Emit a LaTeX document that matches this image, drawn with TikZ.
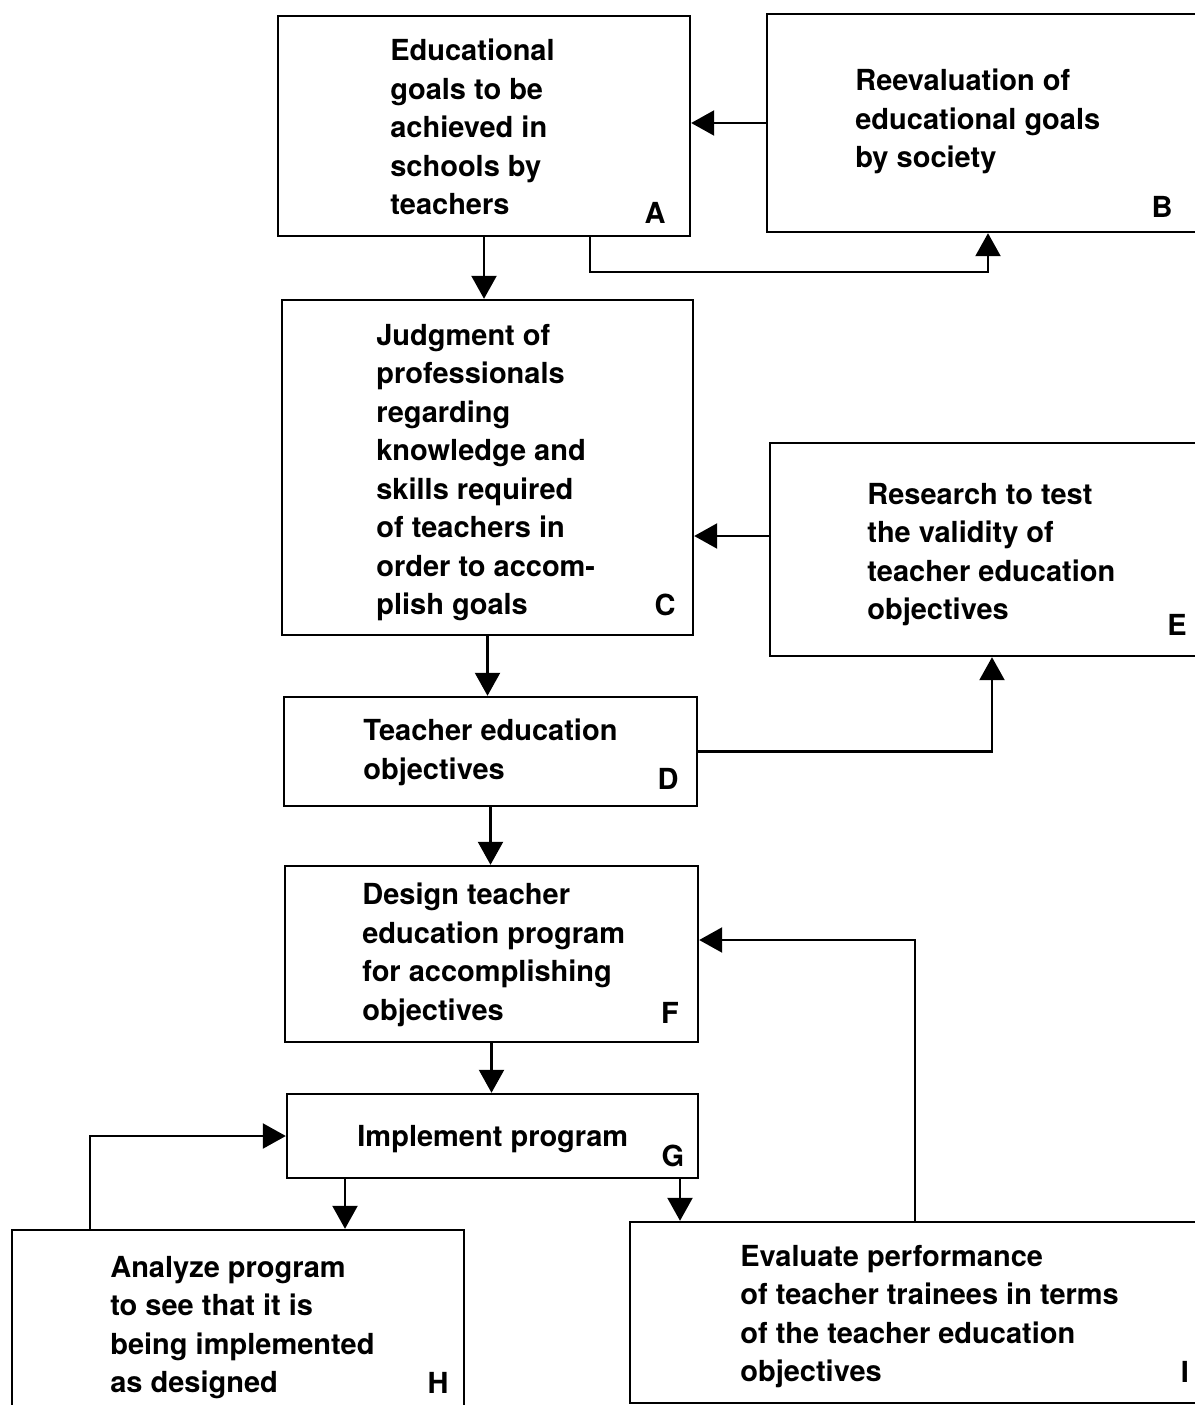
\documentclass[tikz,border=0pt]{standalone}
\usepackage{fontspec}
\setmainfont{TeX Gyre Heros}
\usetikzlibrary{arrows.meta,positioning}

\begin{document}
\begin{tikzpicture}[
    x=0.02cm, y=-0.02cm,
    stage/.style={rectangle, draw=black, line width=1.4pt, inner sep=0pt},
    txt/.style={anchor=north west, inner sep=0pt, align=left, font=\fontsize{16.5}{21.9}\selectfont\bfseries},
    tag/.style={inner sep=0pt, font=\fontsize{16.5}{21.9}\selectfont\bfseries},
    arr/.style={line width=1.3pt, -{Triangle[length=4.6mm, width=5mm]}}
]

\path[use as bounding box, clip] (0,0) rectangle (1195,1405);

% Boxes
\node[stage, minimum width=8.24cm, minimum height=4.4cm] (A) at (484,126) {};
\node[stage, minimum width=8.66cm, minimum height=4.36cm] (B) at (983.5,123) {};
\node[stage, minimum width=8.22cm, minimum height=6.7cm] (C) at (487.5,467.5) {};
\node[stage, minimum width=8.6cm, minimum height=4.26cm] (E) at (985,549.5) {};
\node[stage, minimum width=8.26cm, minimum height=2.18cm] (D) at (490.5,751.5) {};
\node[stage, minimum width=8.26cm, minimum height=3.52cm] (F) at (491.5,954) {};
\node[stage, minimum width=8.22cm, minimum height=1.68cm] (G) at (492.5,1136) {};
\node[stage, minimum width=9.04cm, minimum height=3.6cm] (H) at (238,1320) {};
\node[stage, minimum width=11.4cm, minimum height=3.62cm] (I) at (915,1312.5) {};

% Texts
\node[txt] (tA) at (390,39) {Educational\\goals to be\\achieved in\\schools by\\teachers};
\node[txt] (tB) at (855,69) {Reevaluation of\\educational goals\\by society};
\node[txt] (tC) at (376,324) {Judgment of\\professionals\\regarding\\knowledge and\\skills required\\of teachers in\\order to accom-\\plish goals};
\node[txt] (tE) at (867,483) {Research to test\\the validity of\\teacher education\\objectives};
\node[txt] (tD) at (363,719) {Teacher education\\objectives};
\node[txt] (tF) at (362,883) {Design teacher\\education program\\for accomplishing\\objectives};
\node[txt] (tG) at (357,1125) {Implement program};
\node[txt] (tH) at (110,1256) {Analyze program\\to see that it is\\being implemented\\as designed};
\node[txt] (tI) at (740,1245) {Evaluate performance\\of teacher trainees in terms\\of the teacher education\\objectives};

% Letters
\node[tag] (lA) at (655,213) {A};
\node[tag] (lB) at (1162,207) {B};
\node[tag] (lC) at (665,605) {C};
\node[tag] (lD) at (668,779) {D};
\node[tag] (lE) at (1177,625) {E};
\node[tag] (lF) at (670,1013) {F};
\node[tag] (lG) at (673,1156) {G};
\node[tag] (lH) at (438,1383) {H};
\node[tag] (lI) at (1185,1372) {I};

% Connections
\coordinate (ab) at (590,272);
\draw[arr] (B.west) -- (B.west -| A.east);
\draw[arr] (A.south -| ab) -- (ab) -| (B.south -| 988,0);
\draw[arr] (A.south) -- (A.south |- C.north);
\draw[arr] (E.west |- 0,536) -- (C.east |- 0,536);
\draw[arr] (C.south) -- (C.south |- D.north);
\draw[arr] (D.east) -| (E.south -| 992,0);
\draw[arr] (D.south) -- (D.south |- F.north);
\draw[arr] (I.north) |- (F.east |- 0,940);
\draw[arr] (F.south) -- (F.south |- G.north);
\draw[arr] (H.north -| 90,0) |- (G.west);
\draw[arr] (G.south -| 345,0) -- (H.north -| 345,0);
\draw[arr] (G.south -| 680,0) -- (I.north -| 680,0);

\end{tikzpicture}
\end{document}
